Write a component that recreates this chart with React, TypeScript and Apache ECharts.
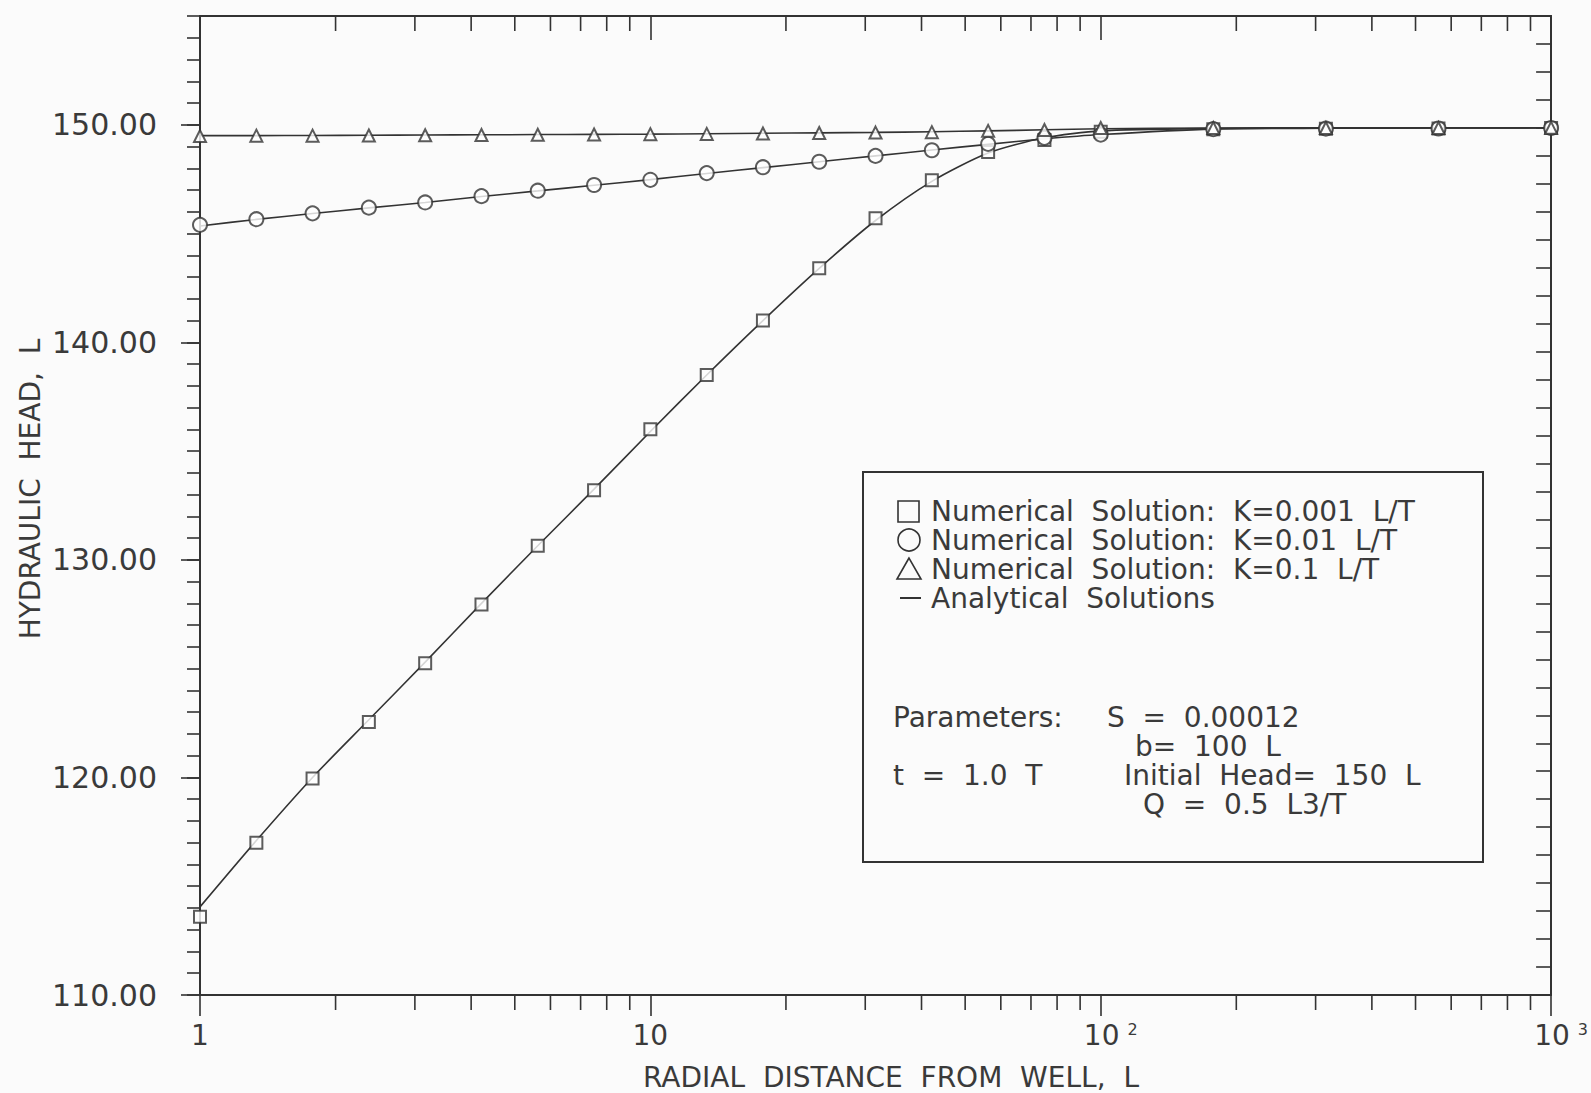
import React, { useEffect, useRef } from 'react';
import * as echarts from 'echarts';

// radial distance (L)
const radialDistance = [1, 1.334, 1.778, 2.371, 3.162, 4.217, 5.623, 7.499, 10, 13.34, 17.78, 23.71, 31.62, 42.17, 56.23, 74.99, 100, 177.8, 316.2, 562.3, 1000];

// numerical solutions (markers)
const numK0001 = [113.6, 117.0, 119.95, 122.55, 125.25, 127.95, 130.65, 133.2, 136.0, 138.5, 141.0, 143.4, 145.7, 147.45, 148.75, 149.3, 149.68, 149.8, 149.82, 149.83, 149.85];
const numK001 = [145.4, 145.66, 145.93, 146.19, 146.43, 146.72, 146.97, 147.23, 147.47, 147.78, 148.05, 148.3, 148.57, 148.83, 149.12, 149.4, 149.55, 149.8, 149.82, 149.83, 149.85];
const numK01 = [149.48, 149.5, 149.5, 149.51, 149.52, 149.53, 149.54, 149.55, 149.57, 149.58, 149.6, 149.62, 149.64, 149.66, 149.72, 149.76, 149.85, 149.85, 149.85, 149.85, 149.86];

// analytical solutions (lines)
const anaK0001 = [114.05, 117.1, 120.0, 122.65, 125.3, 128.0, 130.65, 133.25, 135.9, 138.5, 141.0, 143.4, 145.6, 147.4, 148.7, 149.4, 149.72, 149.83, 149.85, 149.85, 149.86];
const anaK001 = [145.35, 145.65, 145.92, 146.18, 146.43, 146.7, 146.96, 147.22, 147.48, 147.76, 148.03, 148.3, 148.57, 148.84, 149.1, 149.35, 149.55, 149.8, 149.84, 149.85, 149.86];
const anaK01 = [149.5, 149.5, 149.51, 149.52, 149.53, 149.54, 149.55, 149.56, 149.57, 149.59, 149.61, 149.63, 149.65, 149.68, 149.72, 149.77, 149.82, 149.85, 149.86, 149.86, 149.86];

// minor log ticks on the x axes
const minorLogTicks = [2, 3, 4, 5, 6, 7, 8, 9, 20, 30, 40, 50, 60, 70, 80, 90, 200, 300, 400, 500, 600, 700, 800, 900];

const legendLines = [
  'Numerical  Solution:  K=0.001  L/T',
  'Numerical  Solution:  K=0.01  L/T',
  'Numerical  Solution:  K=0.1  L/T',
  'Analytical  Solutions',
];

// [text, x, y] of the parameter block
const paramTexts: [string, number, number][] = [
  ['Parameters:', 893, 717],
  ['S  =  0.00012', 1107, 717],
  ['b=  100  L', 1135, 746],
  ['t  =  1.0  T', 893, 775],
  ['Initial  Head=  150  L', 1124, 775],
  ['Q  =  0.5  L3/T', 1143, 804],
];

const INK = '#333333';
const TEXT_INK = '#3a3a3a';
const FONT = 'DejaVu Sans';

export default function App() {
  const ref = useRef<HTMLDivElement>(null);
  useEffect(() => {
    if (!ref.current) return;
    const chart = echarts.init(ref.current, undefined, { renderer: 'svg' });
    const pair = (ys: number[]) => radialDistance.map((x, i) => [x, ys[i]]);
    const Y_MIN = 110;
    const Y_MAX = 155;

    const lineSeries = (ys: number[]) => ({
      type: 'line',
      data: pair(ys),
      showSymbol: false,
      symbol: 'none',
      smooth: 0.25,
      lineStyle: { color: INK, width: 1.6 },
      silent: true,
      z: 2,
    });
    const markSeries = (ys: number[], symbol: string, size: number) => ({
      type: 'scatter',
      data: pair(ys),
      symbol,
      symbolSize: size,
      itemStyle: { color: INK, borderColor: INK, borderWidth: 1.6 },
      silent: true,
      z: 3,
    });

    const lx = 862;
    const ly = 471;
    const legendY = [511, 540, 569, 598];
    const TXT_FONT = `28px "${FONT}"`;

    const option: any = {
      animation: false,
      backgroundColor: '#fbfbfb',
      grid: { left: 200, right: 34, top: 16, bottom: 98, containLabel: false },
      xAxis: [
        {
          type: 'log', logBase: 10, min: 1, max: 1000, position: 'bottom',
          axisLine: { show: true, lineStyle: { color: INK, width: 2 } },
          axisTick: { show: true, inside: false, length: 21, lineStyle: { color: INK, width: 1.6 } },
          splitLine: { show: false },
          axisLabel: {
            show: true, margin: 26, color: TEXT_INK, fontFamily: FONT, fontSize: 28,
            formatter: (v: number) => {
              if (v === 1) return '1';
              if (v === 10) return '10';
              if (Math.abs(v - 100) < 1e-6) return '{b|10}{s|2}';
              if (Math.abs(v - 1000) < 1e-6) return '{b|10}{s|3}';
              return '';
            },
            rich: {
              b: { fontFamily: FONT, fontSize: 28, color: TEXT_INK, padding: [0, 0, 0, 20] },
              s: { fontFamily: FONT, fontSize: 16, color: TEXT_INK, verticalAlign: 'top', padding: [0, 0, 0, 8] },
            },
          },
        },
        {
          type: 'log', logBase: 10, min: 1, max: 1000, position: 'top',
          axisLine: { show: true, lineStyle: { color: INK, width: 2 } },
          axisTick: { show: true, inside: true, length: 24, lineStyle: { color: INK, width: 1.6 } },
          splitLine: { show: false },
          axisLabel: { show: false },
        },
      ],
      yAxis: [
        {
          type: 'value', min: Y_MIN, max: Y_MAX, interval: 10, position: 'left',
          axisLine: { show: true, lineStyle: { color: INK, width: 2 } },
          axisTick: { show: true, inside: false, length: 19, lineStyle: { color: INK, width: 1.6 } },
          splitLine: { show: false },
          axisLabel: {
            show: true, margin: 43, color: TEXT_INK, fontFamily: FONT, fontSize: 30,
            showMaxLabel: false,
            formatter: (v: number) => (v % 10 === 0 ? v.toFixed(2) : ''),
          },
        },
        {
          type: 'value', min: Y_MIN, max: Y_MAX, interval: 1, position: 'left',
          axisLine: { show: false },
          axisTick: { show: true, inside: false, length: 13, lineStyle: { color: INK, width: 1.6 } },
          splitLine: { show: false },
          axisLabel: { show: false },
        },
        {
          type: 'value', min: 0, max: 35, interval: 1, position: 'right',
          axisLine: { show: true, lineStyle: { color: INK, width: 2 } },
          axisTick: { show: true, inside: true, length: 15, lineStyle: { color: INK, width: 1.6 } },
          splitLine: { show: false },
          axisLabel: { show: false },
        },
      ],
      series: [
        lineSeries(anaK0001),
        lineSeries(anaK001),
        lineSeries(anaK01),
        markSeries(numK0001, 'emptyRect', 12),
        markSeries(numK001, 'emptyCircle', 14),
        markSeries(numK01, 'emptyTriangle', 12),
        {
          type: 'custom',
          coordinateSystem: 'cartesian2d',
          xAxisIndex: 0,
          yAxisIndex: 0,
          silent: true,
          clip: false,
          data: minorLogTicks.map((v) => [v, Y_MIN]),
          encode: { x: 0, y: 1 },
          renderItem: (params: any, api: any) => {
            const v = api.value(0);
            const pb = api.coord([v, Y_MIN]);
            const pt = api.coord([v, Y_MAX]);
            return {
              type: 'group',
              children: [
                { type: 'line', shape: { x1: pb[0], y1: pb[1], x2: pb[0], y2: pb[1] + 15 }, style: { stroke: INK, lineWidth: 1.6 } },
                { type: 'line', shape: { x1: pt[0], y1: pt[1], x2: pt[0], y2: pt[1] + 15 }, style: { stroke: INK, lineWidth: 1.6 } },
              ],
            };
          },
        },
      ],
      graphic: [
        {
          type: 'rect', left: lx, top: ly,
          shape: { x: 0, y: 0, width: 620, height: 390 },
          style: { fill: 'rgba(0,0,0,0)', stroke: INK, lineWidth: 2 },
          z: 10,
        },
        { type: 'rect', shape: { x: 898, y: legendY[0] - 10, width: 21, height: 21 }, style: { fill: 'none', stroke: INK, lineWidth: 1.6 }, z: 10 },
        { type: 'circle', shape: { cx: 909, cy: legendY[1], r: 11 }, style: { fill: 'none', stroke: INK, lineWidth: 1.6 }, z: 10 },
        { type: 'polygon', shape: { points: [[909, legendY[2] - 11], [897, legendY[2] + 10], [921, legendY[2] + 10]] }, style: { fill: 'none', stroke: INK, lineWidth: 1.6 }, z: 10 },
        { type: 'line', shape: { x1: 900, y1: legendY[3], x2: 921, y2: legendY[3] }, style: { stroke: INK, lineWidth: 2 }, z: 10 },
        ...legendLines.map((t, i) => ({
          type: 'text', x: 931, y: legendY[i], z: 10,
          style: { text: t, fill: TEXT_INK, font: TXT_FONT, lineHeight: 28, verticalAlign: 'middle', align: 'left' },
        })),
        ...paramTexts.map(([t, x, y]) => ({
          type: 'text', x, y, z: 10,
          style: { text: t, fill: TEXT_INK, font: TXT_FONT, lineHeight: 28, verticalAlign: 'middle', align: 'left' },
        })),
        {
          type: 'text', x: 891, y: 1077, z: 10,
          style: { text: 'RADIAL  DISTANCE  FROM  WELL,  L', fill: TEXT_INK, font: `28px "${FONT}"`, align: 'center', verticalAlign: 'middle' },
        },
        {
          type: 'text', x: 30, y: 489, rotation: Math.PI / 2, z: 10,
          style: { text: 'HYDRAULIC  HEAD,  L', fill: TEXT_INK, font: `28px "${FONT}"`, align: 'center', verticalAlign: 'middle' },
        },
      ],
    };
    chart.setOption(option);
    return () => chart.dispose();
  }, []);
  return <div ref={ref} style={{ position: 'fixed', left: 0, top: 0, width: 1591, height: 1093 }} />;
}
